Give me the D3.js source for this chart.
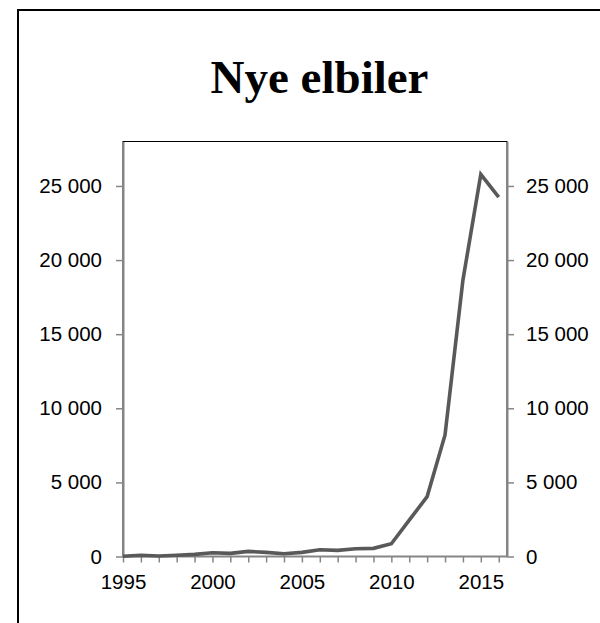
<!DOCTYPE html>
<html><head><meta charset="utf-8">
<script src="https://cdn.jsdelivr.net/npm/d3@7"></script>
<style>html,body{margin:0;padding:0;background:#fff;}svg{display:block;}</style>
</head><body>
<svg id="chart" width="600" height="623"></svg>
<script>
const title = "Nye elbiler";
const years = [1995,1996,1997,1998,1999,2000,2001,2002,2003,2004,2005,2006,2007,2008,2009,2010,2011,2012,2013,2014,2015,2016];
const values = [15,80,35,80,145,255,210,345,280,190,280,460,415,525,550,860,2450,4040,8200,18650,25780,24250];
const yTicks = [0,5000,10000,15000,20000,25000];
const xLabelYears = [1995,2000,2005,2010,2015];

const svg = d3.select("#chart");
const plot = {left:123, right:507, top:141.5, bottom:556.5};
const x = d3.scalePoint().domain(years).range([plot.left, 498.7]);
const y = d3.scaleLinear().domain([0,28000]).range([plot.bottom, plot.top]);
const fmt = v => d3.format(",")(v).replace(/,/g, " ");

// outer chart border
svg.append("rect").attr("x",18).attr("y",10).attr("width",620).attr("height",640)
  .attr("fill","none").attr("stroke","#000").attr("stroke-width",2);

svg.append("text").attr("x",319.5).attr("y",93).attr("text-anchor","middle")
  .attr("font-family","'Liberation Serif','Times New Roman',serif").attr("font-weight","bold")
  .attr("font-size",47).attr("fill","#000").text(title);

// plot area border
svg.append("rect").attr("x",plot.left).attr("y",plot.top)
  .attr("width",plot.right-plot.left).attr("height",plot.bottom-plot.top)
  .attr("fill","none").attr("stroke","#000").attr("stroke-width",1);

const font = "'Liberation Sans',Arial,sans-serif";
const styleAxis = g => {
  g.select(".domain").attr("stroke","#868686").attr("stroke-width",2);
  g.selectAll(".tick line").attr("stroke","#868686").attr("stroke-width",1.5);
  g.selectAll(".tick text").attr("font-family",font).attr("font-size",20.5).attr("fill","#000");
};

const yl = svg.append("g").attr("transform",`translate(${plot.left},0)`)
  .call(d3.axisLeft(y).tickValues(yTicks).tickFormat(fmt).tickSizeInner(7).tickSizeOuter(0).tickPadding(14));
styleAxis(yl);
yl.selectAll(".tick text").attr("dy","0.32em");

const yr = svg.append("g").attr("transform",`translate(${plot.right},0)`)
  .call(d3.axisRight(y).tickValues(yTicks).tickFormat(fmt).tickSizeInner(7).tickSizeOuter(0).tickPadding(12));
styleAxis(yr);
yr.selectAll(".tick text").attr("dy","0.32em");

const xa = svg.append("g").attr("transform",`translate(0,${plot.bottom})`)
  .call(d3.axisBottom(x).tickFormat(d => xLabelYears.includes(d) ? d : "").tickSizeInner(6).tickSizeOuter(0).tickPadding(12));
styleAxis(xa);
xa.select(".domain").attr("d",`M${plot.left},0H${plot.right}`);

const line = d3.line().x((d,i)=>x(years[i])).y(d=>y(d));
svg.append("path").datum(values).attr("d",line).attr("fill","none")
  .attr("stroke","#595959").attr("stroke-width",3.6).attr("stroke-linejoin","miter");
</script>
</body></html>
